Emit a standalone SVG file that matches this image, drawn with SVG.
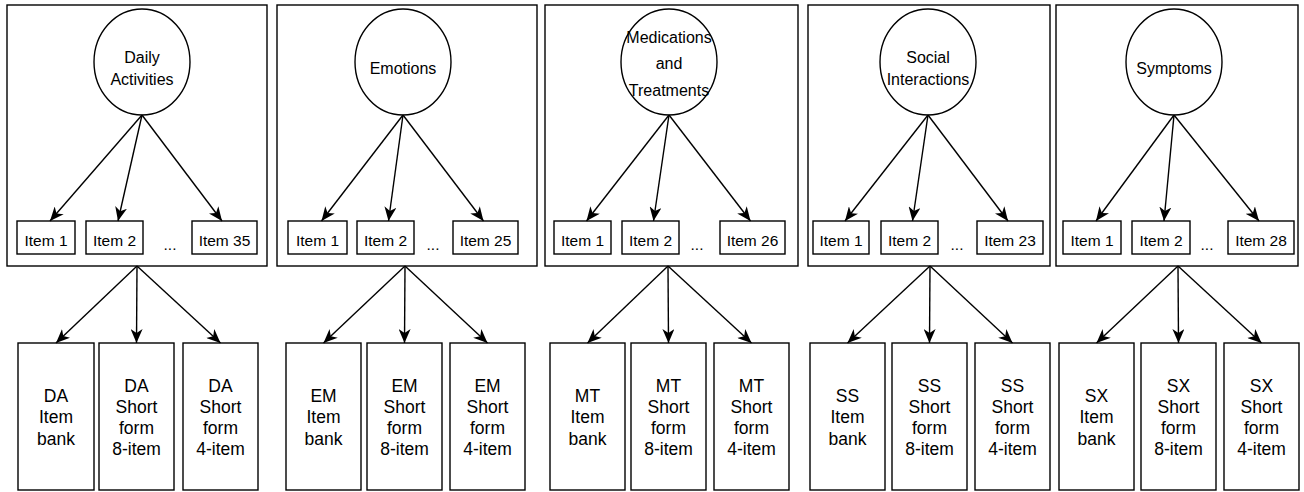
<svg xmlns="http://www.w3.org/2000/svg" width="1304" height="492" viewBox="0 0 1304 492">
<style>
.fr{fill:#fff;stroke:#000;stroke-width:1.4}
.t{font-family:"Liberation Sans",Arial,Helvetica,sans-serif;fill:#000;text-anchor:middle}
.c{font-size:16px}.i{font-size:15.5px}.f{font-size:17.5px}
.e{stroke:#000;stroke-width:1.4;fill:none;marker-end:url(#arr)}
</style>
<defs>
<marker id="arr" markerWidth="14" markerHeight="12" refX="14" refY="6" orient="auto" markerUnits="userSpaceOnUse"><path d="M0,0 L14,6 L0,12 L4,6 z" fill="#000"/></marker>
</defs>
<rect width="1304" height="492" fill="#fff"/>
<!-- panels -->
<g id="panel-da"><rect class="fr" x="7" y="5" width="260" height="261"/></g>
<g id="panel-em"><rect class="fr" x="277" y="5" width="260" height="261"/></g>
<g id="panel-mt"><rect class="fr" x="545" y="5" width="253" height="261"/></g>
<g id="panel-ss"><rect class="fr" x="808" y="5" width="242" height="261"/></g>
<g id="panel-sx"><rect class="fr" x="1056" y="5" width="242" height="261"/></g>
<!-- circles -->
<g id="c-da"><ellipse class="fr" cx="142" cy="62" rx="48" ry="53"/><text class="t c" x="142" y="63">Daily</text><text class="t c" x="142" y="85">Activities</text></g>
<g id="c-em"><ellipse class="fr" cx="403" cy="62" rx="48" ry="53"/><text class="t c" x="403" y="74">Emotions</text></g>
<g id="c-mt"><ellipse class="fr" cx="669" cy="62" rx="48" ry="53"/><text class="t c" x="669" y="42.5">Medications</text><text class="t c" x="669" y="69">and</text><text class="t c" x="669" y="95.5">Treatments</text></g>
<g id="c-ss"><ellipse class="fr" cx="928" cy="62" rx="48" ry="53"/><text class="t c" x="928" y="63">Social</text><text class="t c" x="928" y="85">Interactions</text></g>
<g id="c-sx"><ellipse class="fr" cx="1174" cy="62" rx="48" ry="53"/><text class="t c" x="1174" y="74">Symptoms</text></g>
<!-- items -->
<g id="da-i1"><rect class="fr" x="17" y="221" width="58" height="33"/><text class="t i" x="46" y="245.5">Item 1</text></g>
<g id="da-i2"><rect class="fr" x="86" y="221" width="57" height="33"/><text class="t i" x="114.5" y="245.5">Item 2</text></g>
<g id="da-dots"><text class="t i" x="170" y="250">...</text></g>
<g id="da-i35"><rect class="fr" x="192" y="221" width="65" height="33"/><text class="t i" x="224.5" y="245.5">Item 35</text></g>
<g id="em-i1"><rect class="fr" x="288" y="221" width="59" height="33"/><text class="t i" x="317.5" y="245.5">Item 1</text></g>
<g id="em-i2"><rect class="fr" x="357" y="221" width="57" height="33"/><text class="t i" x="385.5" y="245.5">Item 2</text></g>
<g id="em-dots"><text class="t i" x="433" y="250">...</text></g>
<g id="em-i25"><rect class="fr" x="453" y="221" width="65" height="33"/><text class="t i" x="485.5" y="245.5">Item 25</text></g>
<g id="mt-i1"><rect class="fr" x="554" y="221" width="57" height="33"/><text class="t i" x="582.5" y="245.5">Item 1</text></g>
<g id="mt-i2"><rect class="fr" x="622" y="221" width="57" height="33"/><text class="t i" x="650.5" y="245.5">Item 2</text></g>
<g id="mt-dots"><text class="t i" x="697" y="250">...</text></g>
<g id="mt-i26"><rect class="fr" x="720" y="221" width="65" height="33"/><text class="t i" x="752.5" y="245.5">Item 26</text></g>
<g id="ss-i1"><rect class="fr" x="813" y="221" width="56" height="33"/><text class="t i" x="841" y="245.5">Item 1</text></g>
<g id="ss-i2"><rect class="fr" x="881" y="221" width="57" height="33"/><text class="t i" x="909.5" y="245.5">Item 2</text></g>
<g id="ss-dots"><text class="t i" x="957" y="250">...</text></g>
<g id="ss-i23"><rect class="fr" x="977" y="221" width="66" height="33"/><text class="t i" x="1010" y="245.5">Item 23</text></g>
<g id="sx-i1"><rect class="fr" x="1063" y="221" width="58" height="33"/><text class="t i" x="1092" y="245.5">Item 1</text></g>
<g id="sx-i2"><rect class="fr" x="1132" y="221" width="58" height="33"/><text class="t i" x="1161" y="245.5">Item 2</text></g>
<g id="sx-dots"><text class="t i" x="1207" y="250">...</text></g>
<g id="sx-i28"><rect class="fr" x="1228" y="221" width="66" height="33"/><text class="t i" x="1261" y="245.5">Item 28</text></g>
<!-- forms -->
<g id="da-bank"><rect class="fr" x="18" y="343" width="76" height="147"/><text class="t f" x="56" y="402">DA</text><text class="t f" x="56" y="423.3">Item</text><text class="t f" x="56" y="444.6">bank</text></g>
<g id="da-sf8"><rect class="fr" x="99" y="343" width="75" height="147"/><text class="t f" x="136.5" y="391.5">DA</text><text class="t f" x="136.5" y="412.8">Short</text><text class="t f" x="136.5" y="434">form</text><text class="t f" x="136.5" y="455.3">8-item</text></g>
<g id="da-sf4"><rect class="fr" x="183" y="343" width="75" height="147"/><text class="t f" x="220.5" y="391.5">DA</text><text class="t f" x="220.5" y="412.8">Short</text><text class="t f" x="220.5" y="434">form</text><text class="t f" x="220.5" y="455.3">4-item</text></g>
<g id="em-bank"><rect class="fr" x="286" y="343" width="75" height="147"/><text class="t f" x="323.5" y="402">EM</text><text class="t f" x="323.5" y="423.3">Item</text><text class="t f" x="323.5" y="444.6">bank</text></g>
<g id="em-sf8"><rect class="fr" x="367" y="343" width="75" height="147"/><text class="t f" x="404.5" y="391.5">EM</text><text class="t f" x="404.5" y="412.8">Short</text><text class="t f" x="404.5" y="434">form</text><text class="t f" x="404.5" y="455.3">8-item</text></g>
<g id="em-sf4"><rect class="fr" x="450" y="343" width="75" height="147"/><text class="t f" x="487.5" y="391.5">EM</text><text class="t f" x="487.5" y="412.8">Short</text><text class="t f" x="487.5" y="434">form</text><text class="t f" x="487.5" y="455.3">4-item</text></g>
<g id="mt-bank"><rect class="fr" x="550" y="343" width="75" height="147"/><text class="t f" x="587.5" y="402">MT</text><text class="t f" x="587.5" y="423.3">Item</text><text class="t f" x="587.5" y="444.6">bank</text></g>
<g id="mt-sf8"><rect class="fr" x="631" y="343" width="75" height="147"/><text class="t f" x="668.5" y="391.5">MT</text><text class="t f" x="668.5" y="412.8">Short</text><text class="t f" x="668.5" y="434">form</text><text class="t f" x="668.5" y="455.3">8-item</text></g>
<g id="mt-sf4"><rect class="fr" x="714" y="343" width="75" height="147"/><text class="t f" x="751.5" y="391.5">MT</text><text class="t f" x="751.5" y="412.8">Short</text><text class="t f" x="751.5" y="434">form</text><text class="t f" x="751.5" y="455.3">4-item</text></g>
<g id="ss-bank"><rect class="fr" x="810" y="343" width="75" height="147"/><text class="t f" x="847.5" y="402">SS</text><text class="t f" x="847.5" y="423.3">Item</text><text class="t f" x="847.5" y="444.6">bank</text></g>
<g id="ss-sf8"><rect class="fr" x="892" y="343" width="75" height="147"/><text class="t f" x="929.5" y="391.5">SS</text><text class="t f" x="929.5" y="412.8">Short</text><text class="t f" x="929.5" y="434">form</text><text class="t f" x="929.5" y="455.3">8-item</text></g>
<g id="ss-sf4"><rect class="fr" x="975" y="343" width="75" height="147"/><text class="t f" x="1012.5" y="391.5">SS</text><text class="t f" x="1012.5" y="412.8">Short</text><text class="t f" x="1012.5" y="434">form</text><text class="t f" x="1012.5" y="455.3">4-item</text></g>
<g id="sx-bank"><rect class="fr" x="1059" y="343" width="75" height="147"/><text class="t f" x="1096.5" y="402">SX</text><text class="t f" x="1096.5" y="423.3">Item</text><text class="t f" x="1096.5" y="444.6">bank</text></g>
<g id="sx-sf8"><rect class="fr" x="1141" y="343" width="75" height="147"/><text class="t f" x="1178.5" y="391.5">SX</text><text class="t f" x="1178.5" y="412.8">Short</text><text class="t f" x="1178.5" y="434">form</text><text class="t f" x="1178.5" y="455.3">8-item</text></g>
<g id="sx-sf4"><rect class="fr" x="1224" y="343" width="75" height="147"/><text class="t f" x="1261.5" y="391.5">SX</text><text class="t f" x="1261.5" y="412.8">Short</text><text class="t f" x="1261.5" y="434">form</text><text class="t f" x="1261.5" y="455.3">4-item</text></g>
<!-- connectors -->
<g id="connectors">
<path class="e" d="M142,115 L50,221"/><path class="e" d="M142,115 L118,221"/><path class="e" d="M142,115 L222,221"/>
<path class="e" d="M403,115 L321.5,221"/><path class="e" d="M403,115 L388.5,221"/><path class="e" d="M403,115 L483.5,221"/>
<path class="e" d="M669,115 L586.5,221"/><path class="e" d="M669,115 L653.5,221"/><path class="e" d="M669,115 L750.5,221"/>
<path class="e" d="M928,115 L845,221"/><path class="e" d="M928,115 L912.5,221"/><path class="e" d="M928,115 L1008,221"/>
<path class="e" d="M1174,115 L1096,221"/><path class="e" d="M1174,115 L1164,221"/><path class="e" d="M1174,115 L1259,221"/>
<path class="e" d="M137,266 L56,343"/><path class="e" d="M137,266 L136.5,343"/><path class="e" d="M137,266 L220.5,343"/>
<path class="e" d="M405,266 L323.5,343"/><path class="e" d="M405,266 L404.5,343"/><path class="e" d="M405,266 L487.5,343"/>
<path class="e" d="M668,266 L587.5,343"/><path class="e" d="M668,266 L668.5,343"/><path class="e" d="M668,266 L751.5,343"/>
<path class="e" d="M930,266 L847.5,343"/><path class="e" d="M930,266 L929.5,343"/><path class="e" d="M930,266 L1012.5,343"/>
<path class="e" d="M1178,266 L1096.5,343"/><path class="e" d="M1178,266 L1178.5,343"/><path class="e" d="M1178,266 L1261.5,343"/>
</g>
</svg>
